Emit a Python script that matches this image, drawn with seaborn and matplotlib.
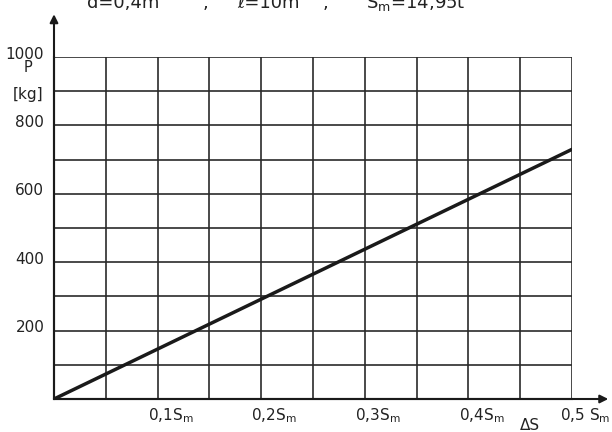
import matplotlib
matplotlib.use("Agg")
import matplotlib.pyplot as plt
import seaborn as sns
import pandas as pd
from matplotlib.transforms import ScaledTranslation

# data
delta_s = [0.0, 0.5]          # ΔS in units of S_m
load_p = [0.0, 730.0]         # P [kg]
x_grid = [0.05, 0.10, 0.15, 0.20, 0.25, 0.30, 0.35, 0.40, 0.45, 0.50]
x_labels = ["", "0,1S$_\\mathrm{m}$", "", "0,2S$_\\mathrm{m}$", "", "0,3S$_\\mathrm{m}$",
            "", "0,4S$_\\mathrm{m}$", "", "0,5 S$_\\mathrm{m}$"]
y_grid = [100, 200, 300, 400, 500, 600, 700, 800, 900, 1000]
y_labels = ["", "200", "", "400", "", "600", "", "800", "", "1000"]
header_parts = ["d=0,4m", ",", "ℓ=10m", ",", "S$_\\mathrm{m}$=14,95t"]

sns.set_style("white")
plt.rcParams['font.family'] = ['DejaVu Sans']

W, H = 612, 432
fig = plt.figure(figsize=(W / 100, H / 100), dpi=100)
ax = fig.add_axes([54 / W, 1 - 399 / H, (572 - 54) / W, (399 - 57) / H])

df = pd.DataFrame({"dS": delta_s, "P": load_p})
sns.lineplot(data=df, x="dS", y="P", ax=ax, color="#1a1a1a", linewidth=2.5)

ax.set_xlim(0, 0.5)
ax.set_ylim(0, 1000)
ax.set_xticks(x_grid)
ax.set_xticklabels(x_labels, fontsize=11, color="#222222")
ax.set_yticks(y_grid)
ax.set_yticklabels(y_labels, fontsize=11, color="#222222")
ax.tick_params(axis="both", length=0)
ax.tick_params(axis="y", pad=7)
ax.tick_params(axis="x", pad=5)
ax.grid(True, color="#2a2a2a", linewidth=1.2)
ax.set_xlabel("")
ax.set_ylabel("")

for lab in ax.get_xticklabels():
    lab.set_transform(lab.get_transform() + ScaledTranslation(0.13, 0, fig.dpi_scale_trans))
for lab in ax.get_yticklabels():
    lab.set_transform(lab.get_transform() + ScaledTranslation(0, 0.045, fig.dpi_scale_trans))

for s in ["top", "right"]:
    ax.spines[s].set_visible(False)
for s in ["left", "bottom"]:
    ax.spines[s].set_color("#1a1a1a")
    ax.spines[s].set_linewidth(1.5)

# axis arrows
ax.annotate("", xy=(0, 1125), xytext=(0, 0), annotation_clip=False,
            arrowprops=dict(arrowstyle="-|>", lw=1.5, color="#1a1a1a", mutation_scale=12,
                            shrinkA=0, shrinkB=0))
ax.annotate("", xy=(0.535, 0), xytext=(0, 0), annotation_clip=False,
            arrowprops=dict(arrowstyle="-|>", lw=1.5, color="#1a1a1a", mutation_scale=12,
                            shrinkA=0, shrinkB=0))

# axis titles
fig.text(28 / W, 1 - 68 / H, "P", fontsize=10.5, ha="center", va="center", color="#222222")
fig.text(28 / W, 1 - 95 / H, "[kg]", fontsize=11, ha="center", va="center", color="#222222")
fig.text(530 / W, 1 - 418 / H, "ΔS", fontsize=11, ha="center", va="top", color="#222222")

# header (cut at top, as in the source)
header_x = [123, 205, 268, 325, 416]
for hx, t in zip(header_x, header_parts):
    fig.text(hx / W, 1 - 8 / H, t, fontsize=13, ha="center", va="baseline", color="#222222")

fig.savefig("out.png", dpi=100, facecolor="white")
